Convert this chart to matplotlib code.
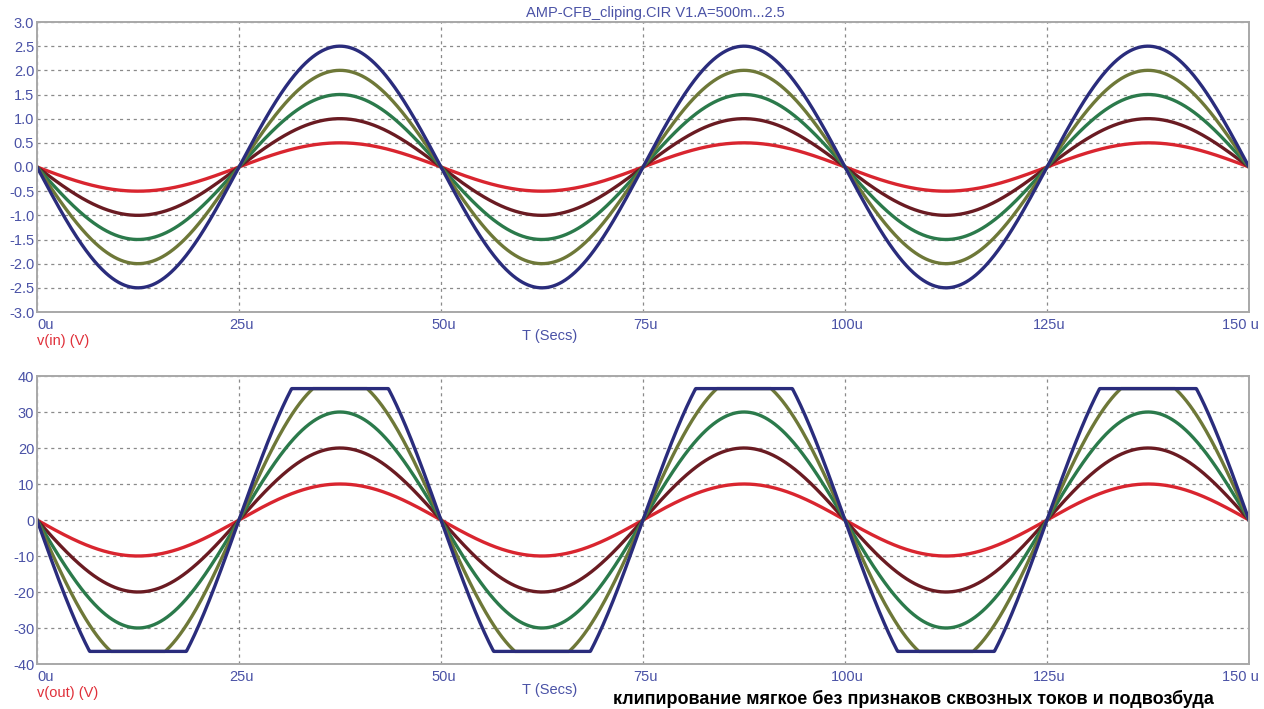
import matplotlib
matplotlib.use("Agg")
import matplotlib.pyplot as plt
import numpy as np

# values
amp_in = [0.5, 1.0, 1.5, 2.0, 2.5]          # V1.A sweep, volts
gain = 20.0                                  # v(out) / v(in)
clip_level = 36.5                            # output rail, volts
period_us = 50.0
colors = ["#d9252f", "#6a1b22", "#2b7a4b", "#6e7838", "#2a2c7c"]
x_ticks = [0, 25, 50, 75, 100, 125, 150]
x_ticklabels = ["0u", "25u", "50u", "75u", "100u", "125u", "150 u"]
y_ticks_in = [3.0, 2.5, 2.0, 1.5, 1.0, 0.5, 0.0, -0.5, -1.0, -1.5, -2.0, -2.5, -3.0]
y_ticks_out = [40, 30, 20, 10, 0, -10, -20, -30, -40]

plt.rcParams['font.family'] = ['Liberation Sans Narrow', 'Liberation Sans', 'DejaVu Sans']
blue_txt = "#4a52a6"
frame = "#a8a8a8"

t = np.linspace(0, 150, 3001)
sig = -np.sin(2 * np.pi * t / period_us)

fig = plt.figure(figsize=(12.64, 7.09), dpi=100)
ax1 = fig.add_axes([37/1264, 1-312/709, 1212/1264, 290/709])
ax2 = fig.add_axes([37/1264, 1-664/709, 1212/1264, 288/709])

for a, c in zip(amp_in, colors):
    ax1.plot(t, a * sig, color=c, lw=2.4, solid_capstyle='round')
    ax2.plot(t, np.clip(gain * a * sig, -clip_level, clip_level), color=c, lw=2.4)

def style(ax, yticks, ylim, fmt, tsecs_y):
    ax.set_xlim(0, 150)
    ax.set_ylim(*ylim)
    ax.set_yticks(yticks)
    ax.set_yticklabels([fmt(v) for v in yticks], color=blue_txt, fontsize=10.5)
    ax.set_xticks(x_ticks)
    ax.set_xticklabels([])
    for i, (xv, lab) in enumerate(zip(x_ticks, x_ticklabels)):
        if i == 0:
            ax.text(xv, -0.02, lab, transform=ax.get_xaxis_transform(),
                    ha='left', va='top', color=blue_txt, fontsize=10.5)
        else:
            ax.text(xv + (-1.0 if i == len(x_ticks) - 1 else 0.3), -0.02, lab,
                    transform=ax.get_xaxis_transform(), ha='center', va='top',
                    color=blue_txt, fontsize=10.5)
    ax.tick_params(length=0, pad=2)
    ax.grid(True, ls=(0, (2.5, 3)), color="#8a8a8a", lw=0.9)
    for s in ax.spines.values():
        s.set_color(frame)
        s.set_linewidth(1.4)
    ax.text(63.5, tsecs_y, "T (Secs)", transform=ax.get_xaxis_transform(),
            ha='center', va='center', color=blue_txt, fontsize=10.5)

style(ax1, y_ticks_in, (-3.0, 3.0), lambda v: "%.1f" % v, -0.083)
style(ax2, y_ticks_out, (-40, 40), lambda v: "%d" % v, -0.09)

fig.text(37/1264, 1-341/709, "v(in) (V)", color="#e0303a", fontsize=10.5, va='center')
fig.text(37/1264, 1-693/709, "v(out) (V)", color="#e0303a", fontsize=10.5, va='center')
fig.text(655/1264, 1-13/709, "AMP-CFB_cliping.CIR V1.A=500m...2.5", color=blue_txt,
         fontsize=10.5, ha='center', va='center')
fig.text(613/1264, 1-699/709, "клипирование мягкое без признаков сквозных токов и подвозбуда",
         family=['Liberation Sans', 'DejaVu Sans'], fontweight='bold', fontsize=13,
         color='black', va='center')

fig.savefig("out.png", dpi=100)
